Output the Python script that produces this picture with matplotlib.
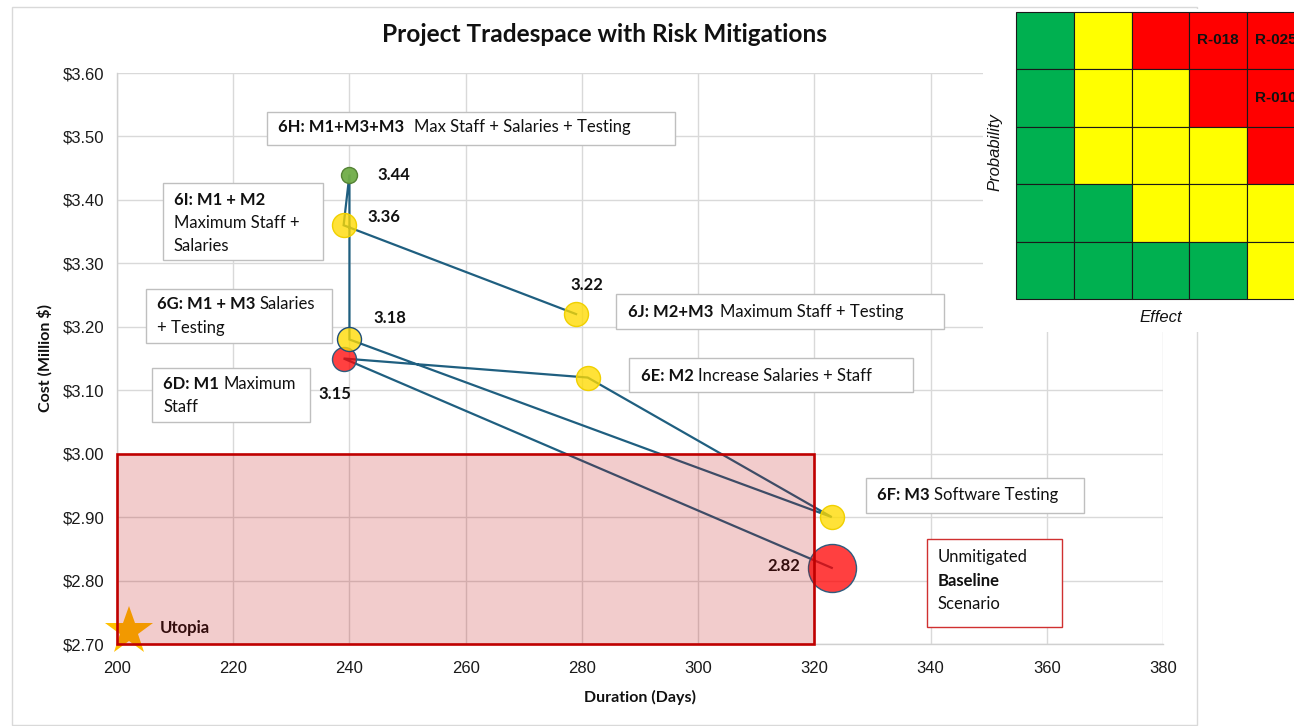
import matplotlib
matplotlib.use('Agg')
import matplotlib.pyplot as plt
from matplotlib.patches import Rectangle
from matplotlib.transforms import Affine2D

# ---------------------------------------------------------------------------
# Data
# ---------------------------------------------------------------------------
scenarios     = ['Baseline', '6D', '6E', '6F', '6G', '6H', '6I', '6J']
duration_days = [323, 239, 281, 323, 240, 240, 239, 279]
cost_musd     = [2.82, 3.15, 3.12, 2.90, 3.18, 3.44, 3.36, 3.22]
risk_level    = ['red', 'red', 'yellow', 'yellow', 'yellow', 'green', 'yellow', 'yellow']
labelled      = ['Baseline', '6D', '6G', '6H', '6I', '6J']   # points with a value label

utopia_days, utopia_cost = 202, 2.72
target_days = (200, 320)
target_cost = (2.70, 3.00)

x_ticks = [200, 220, 240, 260, 280, 300, 320, 340, 360, 380]
y_ticks = [2.70, 2.80, 2.90, 3.00, 3.10, 3.20, 3.30, 3.40, 3.50, 3.60]

# risk matrix: rows top (high probability) -> bottom, cols low -> high effect
risk_matrix = [['G', 'Y', 'R', 'R', 'R'],
               ['G', 'Y', 'Y', 'R', 'R'],
               ['G', 'Y', 'Y', 'Y', 'R'],
               ['G', 'G', 'Y', 'Y', 'Y'],
               ['G', 'G', 'G', 'G', 'Y']]
risk_ids = {(0, 3): 'R-018', (0, 4): 'R-025', (1, 4): 'R-010'}

# callout text: list of lines, each a list of (text, bold)
callouts = {
    '6H': [[('6H: M1+M3+M3', True), ('Max Staff + Salaries + Testing', False)]],
    '6I': [[('6I: M1 + M2', True)], [('Maximum Staff +', False)], [('Salaries', False)]],
    '6G': [[('6G: M1 + M3', True), ('Salaries', False)], [('+ Testing', False)]],
    '6D': [[('6D: M1', True), ('Maximum', False)], [('Staff', False)]],
    '6J': [[('6J: M2+M3', True), ('Maximum Staff + Testing', False)]],
    '6E': [[('6E: M2', True), ('Increase Salaries + Staff', False)]],
    '6F': [[('6F: M3', True), ('Software Testing', False)]],
    'Baseline': [[('Unmitigated', False)], [('Baseline', True)], [('Scenario', False)]],
}

# ---------------------------------------------------------------------------
# Styling / layout (pixels, origin top-left of the 1294x726 canvas)
# ---------------------------------------------------------------------------
W, H = 1294, 726
FONT = 'Lato'
TICK_FONT = 'Liberation Sans'
LINE_C = '#1F5F80'
FILL = {'red': (1.0, 0.0, 0.0, 0.75), 'yellow': (1.0, 0.86, 0.0, 0.78),
        'green': (0.44, 0.68, 0.28, 0.95)}
EDGE = {'Baseline': '#2E5C7E', '6D': '#2E5C7E', '6G': '#1F4E79', '6H': '#548235'}
bubble_px = {'Baseline': 48, '6H': 16}
label_offset = {'Baseline': (-32, 2, 'right'), '6D': (-25, -35, 'left'),
                '6G': (24, 21, 'left'), '6H': (28, 0, 'left'),
                '6I': (24, 8, 'left'), '6J': (11, 29, 'center')}
# box (x0, y0, x1, y1), text x, first line y, line step, gap between parts (pt)
box_layout = {
    '6H': ((267, 112, 675, 145), 278, 127, 23, 7),
    '6I': ((163, 183, 323, 260), 174, 200, 23, 3),
    '6G': ((146, 289, 332, 343), 157, 304, 24, 3),
    '6D': ((152, 368, 310, 422), 163, 384, 23, 3),
    '6J': ((616, 294, 944, 329), 628, 312, 23, 5),
    '6E': ((629, 358, 913, 392), 641, 376, 23, 3),
    '6F': ((866, 478, 1084, 513), 877, 495, 23, 3),
    'Baseline': ((927, 539, 1062, 627), 938, 557, 23.5, 3),
}

fig = plt.figure(figsize=(W / 100, H / 100), dpi=100)
pix = Affine2D().scale(1 / W, -1 / H).translate(0, 1) + fig.transFigure

# chart border
fig.add_artist(Rectangle((12 / W, 1 - 725 / H), (1197 - 12) / W, (725 - 7) / H,
                         transform=fig.transFigure, facecolor='none',
                         edgecolor='#D9D9D9', lw=1.0, zorder=0.5))

ax = fig.add_axes([117 / W, 1 - 644 / H, (1163 - 117) / W, (644 - 73) / H])
ax.set_xlim(x_ticks[0], x_ticks[-1])
ax.set_ylim(y_ticks[0], y_ticks[-1])
ax.set_xticks(x_ticks)
ax.set_yticks(y_ticks)
ax.set_xticklabels([str(v) for v in x_ticks], fontfamily=TICK_FONT, fontsize=12, color='#1a1a1a')
ax.set_yticklabels([f'${v:.2f}' for v in y_ticks], fontfamily=TICK_FONT, fontsize=12, color='#1a1a1a')
ax.tick_params(length=0, pad=9)
ax.tick_params(axis='x', pad=12)
ax.grid(True, color='#D9D9D9', lw=1.0, zorder=0)
ax.set_axisbelow(True)
for side in ['top', 'right']:
    ax.spines[side].set_visible(False)
for side in ['left', 'bottom']:
    ax.spines[side].set_color('#D0D0D0')
    ax.spines[side].set_linewidth(1.0)

# path linking the scenarios
ax.plot(duration_days, cost_musd, color=LINE_C, lw=1.6, zorder=3, solid_joinstyle='miter')

# bubbles
for name, d, c, lvl in zip(scenarios, duration_days, cost_musd, risk_level):
    size = (bubble_px.get(name, 24) * 0.72) ** 2
    ax.scatter([d], [c], s=size, color=FILL[lvl], edgecolors=EDGE.get(name, '#F0D000'),
               linewidths=1.0, zorder=4)

# value labels
for name in labelled:
    i = scenarios.index(name)
    dx, dy, ha = label_offset[name]
    ax.annotate(f'{cost_musd[i]:.2f}', (duration_days[i], cost_musd[i]),
                xytext=(dx, dy), textcoords='offset pixels', ha=ha, va='center',
                fontfamily=FONT, fontweight='bold', fontsize=12, color='#111111', zorder=5)

# utopia point
ax.plot([utopia_days], [utopia_cost], marker='*', markersize=36.5, color='#FFC000',
        markeredgewidth=0, clip_on=False, zorder=4)
ax.annotate('Utopia', (utopia_days, utopia_cost), xytext=(31, 3), textcoords='offset pixels',
            ha='left', va='center', fontfamily=FONT, fontweight='bold', fontsize=12,
            color='#111111', zorder=5)

# target region (drawn on top, translucent)
ax.add_patch(Rectangle((target_days[0], target_cost[0]), target_days[1] - target_days[0],
                       target_cost[1] - target_cost[0], facecolor=(0.75, 0.0, 0.0, 0.2),
                       edgecolor='#C00000', lw=1.9, zorder=6, clip_on=False))

# callout boxes
for name, lines in callouts.items():
    (x0, y0, x1, y1), tx, ty, step, gap = box_layout[name]
    ec = '#D03030' if name == 'Baseline' else '#BFBFBF'
    ax.add_patch(Rectangle((x0, y1), x1 - x0, y0 - y1, transform=pix, facecolor='white',
                           edgecolor=ec, lw=1.0, zorder=7, clip_on=False))
    for k, parts in enumerate(lines):
        prev = None
        for text, bold in parts:
            kw = dict(fontfamily=FONT, fontsize=12, color='#111111', zorder=8,
                      fontweight='bold' if bold else 'normal')
            if prev is None:
                prev = ax.text(tx, ty + k * step, text, transform=pix, ha='left',
                               va='center', **kw)
            else:
                prev = ax.annotate(text, xy=(1, 0), xycoords=prev, xytext=(gap, 0),
                                   textcoords='offset points', ha='left', va='bottom', **kw)

# titles
fig.text(604 / W, 1 - 35 / H, 'Project Tradespace with Risk Mitigations', ha='center',
         va='center', fontfamily=FONT, fontweight='bold', fontsize=17.6, color='#111111')
fig.text(640 / W, 1 - 697 / H, 'Duration (Days)', ha='center', va='center',
         fontfamily=FONT, fontweight='bold', fontsize=11.5, color='#111111')
fig.text(45 / W, 1 - 358 / H, 'Cost (Million $)', ha='center', va='center', rotation=90,
         fontfamily=FONT, fontweight='bold', fontsize=11.5, color='#111111')

# ---------------------------------------------------------------------------
# Inset risk matrix
# ---------------------------------------------------------------------------
fig.add_artist(Rectangle((983 / W, 1 - 332 / H), (W - 983) / W, (332 - 9) / H,
                         transform=fig.transFigure, facecolor='white', edgecolor='none',
                         zorder=1))
cw, ch = 57.8, 57.5
ax_in = fig.add_axes([1016 / W, 1 - (11.5 + 5 * ch) / H, 5 * cw / W, 5 * ch / H])
ax_in.set_zorder(2)
ax_in.set_xlim(0, 5)
ax_in.set_ylim(5, 0)
ax_in.axis('off')
cell_col = {'G': '#00B050', 'Y': '#FFFF00', 'R': '#FF0000'}
for r, row in enumerate(risk_matrix):
    for c, code in enumerate(row):
        ax_in.add_patch(Rectangle((c, r), 1, 1, facecolor=cell_col[code],
                                  edgecolor='#1a1a1a', lw=0.8, clip_on=False))
for (r, c), rid in risk_ids.items():
    ax_in.text(c + 0.5, r + 0.5, rid, ha='center', va='center', fontfamily=TICK_FONT,
               fontweight='bold', fontsize=11, color='#111111', clip_on=False)
fig.text(995 / W, 1 - 152 / H, 'Probability', rotation=90, ha='center', va='center',
         fontfamily=TICK_FONT, fontstyle='italic', fontsize=12, color='#111111', zorder=3)
fig.text(1161 / W, 1 - 317 / H, 'Effect', ha='center', va='center',
         fontfamily=TICK_FONT, fontstyle='italic', fontsize=12, color='#111111', zorder=3)

fig.savefig('out.png', dpi=100)
